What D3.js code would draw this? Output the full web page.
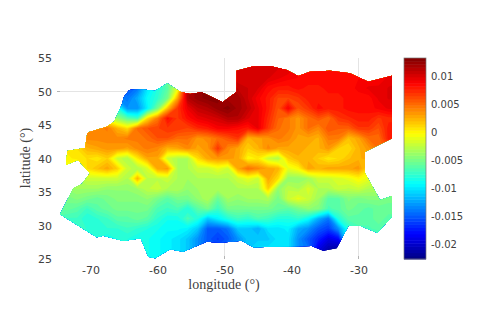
<!DOCTYPE html>
<html>
<head>
<meta charset="utf-8">
<script src="https://cdn.jsdelivr.net/npm/d3@7"></script>
<style>
  body { margin: 0; background: #fff; }
  text { font-family: "DejaVu Sans", sans-serif; }
</style>
</head>
<body>
<div id="chart"></div>
<script>
const lonTicks = [-70, -60, -50, -40, -30];
const latTicks = [25, 30, 35, 40, 45, 50, 55];
const barTicks = [0.01, 0.005, 0, -0.005, -0.01, -0.015, -0.02];
const barTickLabels = ["0.01", "0.005", "0", "-0.005", "-0.01", "-0.015", "-0.02"];
const lonGrid = [-50, -30];
const latGrid = [50];

// sea level field, in thousandths
// first row is 53.5N, first column is 75W, both step 1.5 degrees
const gridStep = 1.5;
const gridLon0 = -75;
const gridLat0 = 53.5;
const fieldRows = [
  [-10,-10,-10,-10,-10,-10,-10,-14,-14,-10,-7,-5,-5,10,11,11,11,11,10,10,10.5,10,10,10,8.8,8.8,8.8,8.8,8.8,8.8,8.8,8.8,9.5,9.5,9.5],
  [-10,-10,-10,-10,-10,-10,-10,-14,-14,-10,-7,-5,-5,11,12,12,12,11,10,10,10,10,9.5,9,8.8,8.8,8.8,8.8,8.8,8.8,8.8,8.8,9,9.5,9.5],
  [-10,-10,-10,-10,-10,-10,-13,-15,-14,-10,-8,-6,-1,11.5,12.5,13,13,12,11,10.5,10,8.5,8,8,8.5,8,8,8.5,8.5,8.5,9,9.5,9.5,10,10.5],
  [-10,-10,-10,-10,-10,-10,-13,-14,-12,-9,-7.5,-5,3,11.5,12.5,13,13,12,12,10.5,9,8,6.5,6.5,7,8,8,8,8,8.5,8.5,8.5,9.5,10,10],
  [-6,-6,-6,-6,-6,-6,-8,-13,-13,-9.5,-5,2,7,9.5,11,11.5,12.5,13,12,11,9.5,8,6,9,6,7,8.5,8,8,8.5,8.5,8.5,9,9.5,9.5],
  [3,3,3,3,3,-1,-4,-6,-7,1,4.5,8.5,7,8.5,9.5,10,10.5,11.5,11.5,10,9.5,7.5,5.5,4.5,3.5,5,6,5,7,7.5,8,8,7,7.5,7.5],
  [4,4,4,4,4,4.5,2.5,1,5,6,6.5,7,7,6.5,7.5,8,9,9,8.5,8,9.5,7,5,4.5,3.5,5,4,6,5.5,5.5,7,7,6,8,8],
  [3,3,3.5,4,4,4,4,4.5,4.5,5,6,6,5,5,3.5,4,5,6,7,2.5,3,3.5,4.5,4,3,3,2.5,4.5,4.5,2,3,5,5,8,8],
  [0.5,0.5,1,2.5,3,3.5,3.5,3,4,4.5,4,2.5,3,4,3,3.5,7,4,3,1.5,2.5,4,3,3,3,2.5,2.5,3.5,1.5,1,2.5,3.5,5,6,6],
  [0,0.3,0.5,1,0.5,1.5,-2,-3,0.5,3,3,-2,-3,-3,1,3,3.5,3.5,3,0,0.5,-2,-3,1.5,2.5,2.5,1.5,0.5,1,2,2.5,3,3,3,3],
  [-1,-1,-1,1,2,3,1.5,-2,-3,-1.5,3,3.5,-3,-3,-2,-2,-1,-2,3,5,4,3,2.5,-1,0,3,2.5,3,3,3,3.5,1,1,1,1],
  [-4,-3,-3,-2,-2,-2,-2,-3,2.5,-2.5,-2.5,-2,-3,-3.5,-3,-3,-3,-3,-2,-1,-2,3,1,-4,-4,-3.5,-2,-2,-1.5,-1,0,-1,-2,-2,-2],
  [-5,-4,-3.5,-3.5,-3.5,-4,-4,-4,-3.5,-2.5,-2,-3,-3,-4,-3.5,-3.5,-3,-3.5,-3,-3,-3,1.5,-4,-2.5,-3,-1.5,-3,-3,-2,-2.5,-2,-3,-3,-3,-3],
  [-5,-5,-4.5,-5,-5.5,-5,-4.5,-4.5,-4.5,-4,-5,-6,-5,-5,-4,-3,-5.5,-3.5,-4,-3.5,-3.5,-3,-5,-2,-1,-2,-3.5,-6,-6,-4.5,-5,-4.5,-4.5,-5,-5],
  [-6,-5.5,-6,-7,-6,-5.5,-5,-5,-5,-5,-6.5,-7,-6.5,-8,-6,-5,-7,-5,-5,-5,-5,-5,-5.5,-6,-5,-4,-4.5,-6.5,-6,-5,-5.5,-6,-5.5,-5.5,-5.5],
  [-6.5,-7,-7,-8,-7.5,-7,-6,-6,-5.5,-6,-7.5,-8.5,-8.5,-6.5,-8,-11,-9.5,-8,-7,-7.5,-6.5,-7,-8,-8,-7.5,-9,-12,-14,-8,-6,-6,-6,-5.5,-6,-6],
  [-7,-7,-7,-7.5,-8,-7.5,-7.5,-7,-7.5,-8,-8.5,-9,-9,-9.5,-11,-15,-15,-14,-11,-11,-12,-10,-10,-9.5,-12,-13,-15,-16,-13,-8,-6.5,-6.5,-6,-6,-6],
  [-8,-8,-8,-8,-8,-8.5,-8,-8,-8.5,-8.5,-9,-9.5,-10,-11,-13,-15,-16,-15,-13,-11,-11,-11,-10,-10,-13,-15,-17,-19,-18,-8,-8,-8,-8,-8,-8],
  [-8,-8,-8,-8,-8,-8,-8,-8,-8.5,-8.5,-9,-9.5,-10,-11,-13,-15,-15,-13,-12,-11,-10,-10,-10,-10,-13,-14,-19,-21,-21.5,-18,-10,-8,-8,-8,-8],
  [-8,-8,-8,-8,-8,-8,-8,-8,-8.5,-8.5,-9,-9.5,-10,-11,-13,-15,-15,-13,-12,-11,-10,-10,-10,-10,-13,-14,-19,-21,-21.5,-18,-10,-8,-8,-8,-8]
];

// outline of the covered area
const outlineLon = [-73.46,-70.82,-70.48,-70.07,-67.58,-66.49,-65.34,-65,-64.21,-62.61,-60.37,-58.54,-56.64,-55.15,-53.4,-50.27,-48.18,-48.18,-45.94,-43.21,-40.72,-38.99,-37.24,-34.25,-31.27,-28.54,-25,-25,-29.03,-29.03,-26.79,-25,-25,-27.2,-29.78,-31.52,-33.25,-35.25,-36.99,-42.21,-45.7,-47.43,-50.67,-52.66,-56.15,-58.13,-60.37,-61.37,-62.51,-65.1,-68.09,-69.07,-74.55,-72.57,-71.31,-70.07,-71.87,-73.66];
const outlineLat = [41.12,41.57,43.76,44,44.75,45.49,47.99,49.22,50.22,50.37,50.07,51.22,49.97,49.63,49.88,48.39,49.97,53.1,53.7,53.81,53.21,52.31,52.96,53.1,52.72,51.46,52.36,43.01,41.01,37.79,33.81,34.4,31.31,28.93,29.97,29.93,26.6,26.24,26.94,26.84,26.75,27.73,27.43,27.58,26.09,26.45,25.1,25.34,28.09,27.69,28.48,28.24,31.67,35.55,36.19,37.79,39.78,39.03];

const barMin = -0.0226;
const barMax = 0.0133;
const jetStops = [0, 0.125, 0.375, 0.625, 0.875, 1];
const jetColors = ["#000080", "#0000ff", "#00ffff", "#ffff00", "#ff0000", "#800000"];
const nLevels = 64;

const width = 498, height = 329;
const x = d3.scaleLinear().domain([-75, -25]).range([57, 392]);
const y = d3.scaleLinear().domain([55, 25]).range([58, 259]);
const barY = d3.scaleLinear().domain([barMax, barMin]).range([58, 259]);

const jet = d3.scaleLinear().domain(jetStops).range(jetColors);
const levelStep = (barMax - barMin) / nLevels;
const levels = d3.range(nLevels).map(i => barMin + i * levelStep);
const levelColor = v => jet((v - barMin + levelStep / 2) / (barMax - barMin));

const svg = d3.select("#chart").append("svg")
  .attr("width", width)
  .attr("height", height)
  .style("display", "block");

// grid lines that show outside the data
svg.append("g").selectAll("line").data(lonGrid).enter().append("line")
  .attr("x1", d => x(d)).attr("x2", d => x(d))
  .attr("y1", y(55)).attr("y2", y(25))
  .attr("stroke", "#e4e4e4");
svg.append("g").selectAll("line").data(latGrid).enter().append("line")
  .attr("x1", x(-75)).attr("x2", x(-25))
  .attr("y1", d => y(d)).attr("y2", d => y(d))
  .attr("stroke", "#e4e4e4");

// short darker ticks at the ends of those lines
svg.append("g").selectAll("line").data(lonGrid).enter().append("line")
  .attr("x1", d => x(d)).attr("x2", d => x(d))
  .attr("y1", y(25) - 3).attr("y2", y(25))
  .attr("stroke", "#b4b4b4");
svg.append("g").selectAll("line").data(latGrid).enter().append("line")
  .attr("x1", x(-75)).attr("x2", x(-75) + 3)
  .attr("y1", d => y(d)).attr("y2", d => y(d))
  .attr("stroke", "#b4b4b4");

// filled field
const nRows = fieldRows.length;
const nCols = fieldRows[0].length;
const flat = fieldRows.flat().map(v => v * 0.001);
const contours = d3.contours().size([nCols, nRows]).smooth(true).thresholds(levels)(flat);
const gridProjection = d3.geoTransform({
  point(c, r) {
    this.stream.point(x(gridLon0 + (c - 0.5) * gridStep), y(gridLat0 - (r - 0.5) * gridStep));
  }
});
const gridPath = d3.geoPath(gridProjection);

const outlinePoints = outlineLon.map((lon, i) => [x(lon), y(outlineLat[i])]);
svg.append("clipPath").attr("id", "outline")
  .append("path")
  .attr("d", d3.line()(outlinePoints) + "Z");

svg.append("g")
  .attr("clip-path", "url(#outline)")
  .selectAll("path")
  .data(contours)
  .enter()
  .append("path")
  .attr("d", gridPath)
  .attr("fill", d => levelColor(d.value));

// axes
const xAxis = svg.append("g")
  .attr("transform", `translate(0,${y(25)})`)
  .call(d3.axisBottom(x).tickValues(lonTicks).tickSize(0).tickPadding(7).tickFormat(d => String(d)));
xAxis.select(".domain").remove();
const yAxis = svg.append("g")
  .attr("transform", `translate(${x(-75)},0)`)
  .call(d3.axisLeft(y).tickValues(latTicks).tickSize(0).tickPadding(5));
yAxis.select(".domain").remove();
svg.selectAll("g.tick text")
  .style("font-size", "11px")
  .style("fill", "#404040");

svg.append("text")
  .attr("x", 224).attr("y", 289)
  .attr("text-anchor", "middle")
  .style("font-family", "'Liberation Serif', serif")
  .style("font-size", "14px")
  .style("fill", "#404040")
  .text("longitude (°)");
svg.append("text")
  .attr("transform", "translate(30,158) rotate(-90)")
  .attr("text-anchor", "middle")
  .style("font-family", "'Liberation Serif', serif")
  .style("font-size", "14px")
  .style("fill", "#404040")
  .text("latitude (°)");

// colorbar
const barX = 404, barW = 22;
const bar = svg.append("g");
bar.selectAll("rect").data(levels).enter().append("rect")
  .attr("x", barX)
  .attr("width", barW)
  .attr("y", d => barY(d + levelStep))
  .attr("height", barY(barMin) - barY(barMin + levelStep) + 0.5)
  .attr("fill", levelColor);
bar.append("rect")
  .attr("x", barX).attr("y", barY(barMax))
  .attr("width", barW).attr("height", barY(barMin) - barY(barMax))
  .attr("fill", "none").attr("stroke", "#777").attr("stroke-width", 0.7);

const barAxis = svg.append("g")
  .attr("transform", `translate(${barX + barW},0)`)
  .call(d3.axisRight(barY).tickValues(barTicks).tickSize(0).tickPadding(5)
    .tickFormat((d, i) => barTickLabels[i]));
barAxis.select(".domain").remove();
barAxis.selectAll("text").style("font-size", "10px").style("fill", "#404040");
</script>
</body>
</html>
